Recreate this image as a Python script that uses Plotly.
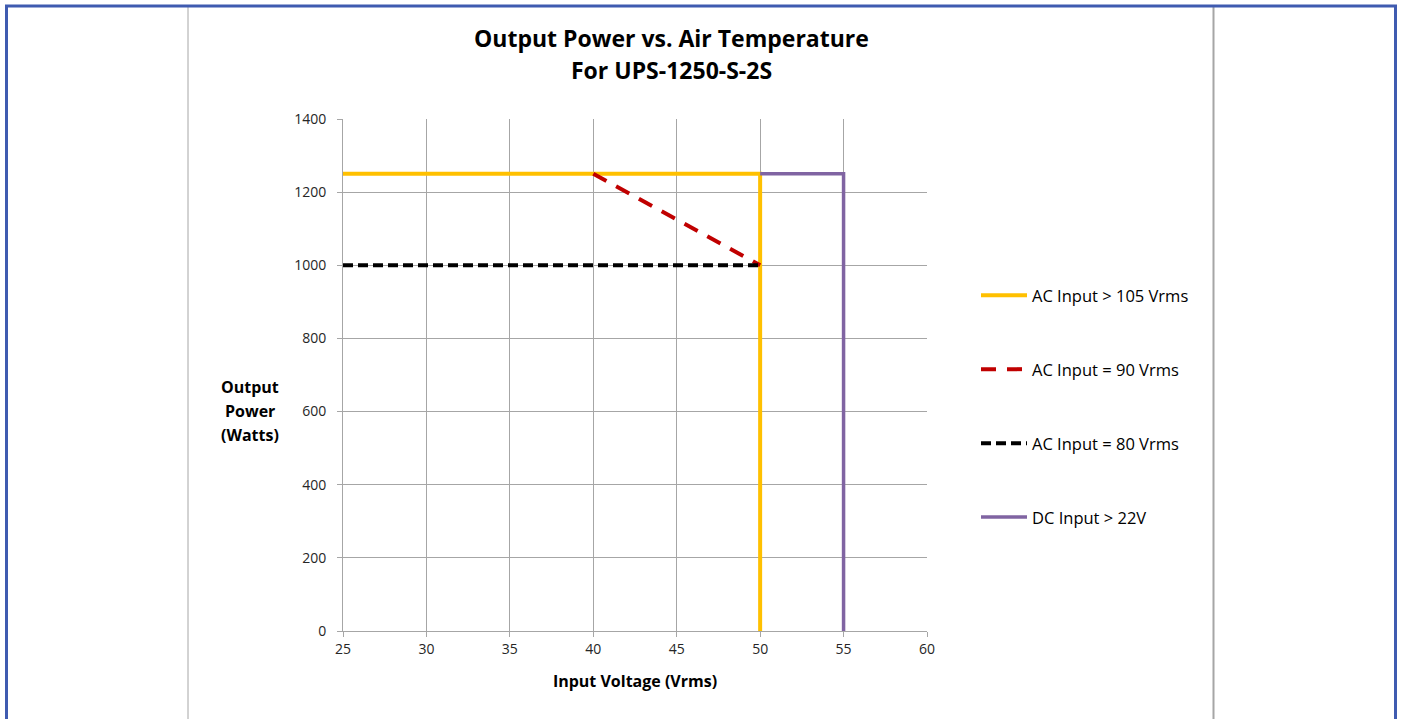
import plotly.graph_objects as go

# ---- data ----
series_names = ["AC Input > 105 Vrms", "AC Input = 90 Vrms", "AC Input = 80 Vrms", "DC Input > 22V"]
x_ac105 = [25, 50, 50]
y_ac105 = [1250, 1250, 0]
x_ac90 = [40, 50]
y_ac90 = [1250, 1000]
x_ac80 = [25, 50]
y_ac80 = [1000, 1000]
x_dc22 = [50, 55, 55]
y_dc22 = [1250, 1250, 0]
x_ticks = [25, 30, 35, 40, 45, 50, 55, 60]
y_ticks = [0, 200, 400, 600, 800, 1000, 1200, 1400]
title_lines = ["Output Power vs. Air Temperature", "For UPS-1250-S-2S"]
y_title_lines = ["Output", "Power", "(Watts)"]

W, H = 1401, 719
L, R, T, B = 343, 927, 119, 631
FONT = "Open Sans, sans-serif"

def px(xp):
    return (xp - L) / (R - L)

def py(yp):
    return (B - yp) / (B - T)

fig = go.Figure()
fig.add_trace(go.Scatter(x=x_ac105, y=y_ac105, mode="lines", name=series_names[0],
                         line=dict(color="#FFC000", width=4), legendgroup="a"))
fig.add_trace(go.Scatter(x=x_ac90, y=y_ac90, mode="lines", name=series_names[1],
                         line=dict(color="#C00000", width=4, dash="15px,11px"), legendgroup="b"))
fig.add_trace(go.Scatter(x=x_ac80, y=y_ac80, mode="lines", name=series_names[2],
                         line=dict(color="#000000", width=4, dash="10px,5px"), legendgroup="c"))
fig.add_trace(go.Scatter(x=x_dc22, y=y_dc22, mode="lines", name=series_names[3],
                         line=dict(color="#8064A2", width=3.5), legendgroup="d"))

axis_common = dict(showgrid=True, gridcolor="#A6A6A6", gridwidth=1, showline=True,
                   linecolor="#A6A6A6", linewidth=1, ticks="outside", ticklen=5,
                   tickcolor="#A6A6A6", zeroline=False,
                   tickfont=dict(family=FONT, size=14, color="#262626"))

fig.update_layout(
    width=W, height=H, autosize=False,
    margin=dict(l=L, r=W - R, t=T, b=H - B, pad=0),
    paper_bgcolor="white", plot_bgcolor="white",
    font=dict(family=FONT, color="#000000"),
    xaxis=dict(range=[25, 60], tickvals=x_ticks, **axis_common,
               title=dict(text="<b>Input Voltage (Vrms)</b>", standoff=19,
                          font=dict(family=FONT, size=16, color="#000000"))),
    yaxis=dict(range=[0, 1400], tickvals=y_ticks, ticklabelstandoff=8, **axis_common),
    legend=dict(x=px(976), y=py(278), xanchor="left", yanchor="top", itemwidth=46,
                tracegroupgap=49.5, font=dict(family=FONT, size=16.5, color="#000000"),
                bgcolor="rgba(0,0,0,0)"),
    showlegend=True,
)

# y axis title as horizontal text, one line each
for i, line in enumerate(y_title_lines):
    fig.add_annotation(text="<b>" + line + "</b>", xref="paper", yref="paper",
                       x=px(250), y=py(387 + 24 * i), showarrow=False,
                       xanchor="center", yanchor="middle",
                       font=dict(family=FONT, size=16, color="#000000"))

# chart title, one line each
for i, line in enumerate(title_lines):
    fig.add_annotation(text="<b>" + line + "</b>", xref="paper", yref="paper",
                       x=px(671), y=py(38 + 32 * i), showarrow=False,
                       xanchor="center", yanchor="middle",
                       font=dict(family=FONT, size=23, color="#000000"))

# page frame: blue outer border and gray chart-area side lines
fig.add_shape(type="line", xref="paper", yref="paper", x0=px(188), x1=px(188), y0=py(7), y1=py(725),
              line=dict(color="#A6A6A6", width=1))
fig.add_shape(type="line", xref="paper", yref="paper", x0=px(1213.5), x1=px(1213.5), y0=py(7), y1=py(725),
              line=dict(color="#A6A6A6", width=2))
fig.add_shape(type="rect", xref="paper", yref="paper", x0=px(6.5), x1=px(1395.5), y0=py(6), y1=py(740),
              line=dict(color="#3F5BB0", width=3), fillcolor="rgba(0,0,0,0)")

fig.write_html("out.html", config={"displayModeBar": False},
               post_script="document.body.style.margin='0';document.body.style.overflow='hidden';")
